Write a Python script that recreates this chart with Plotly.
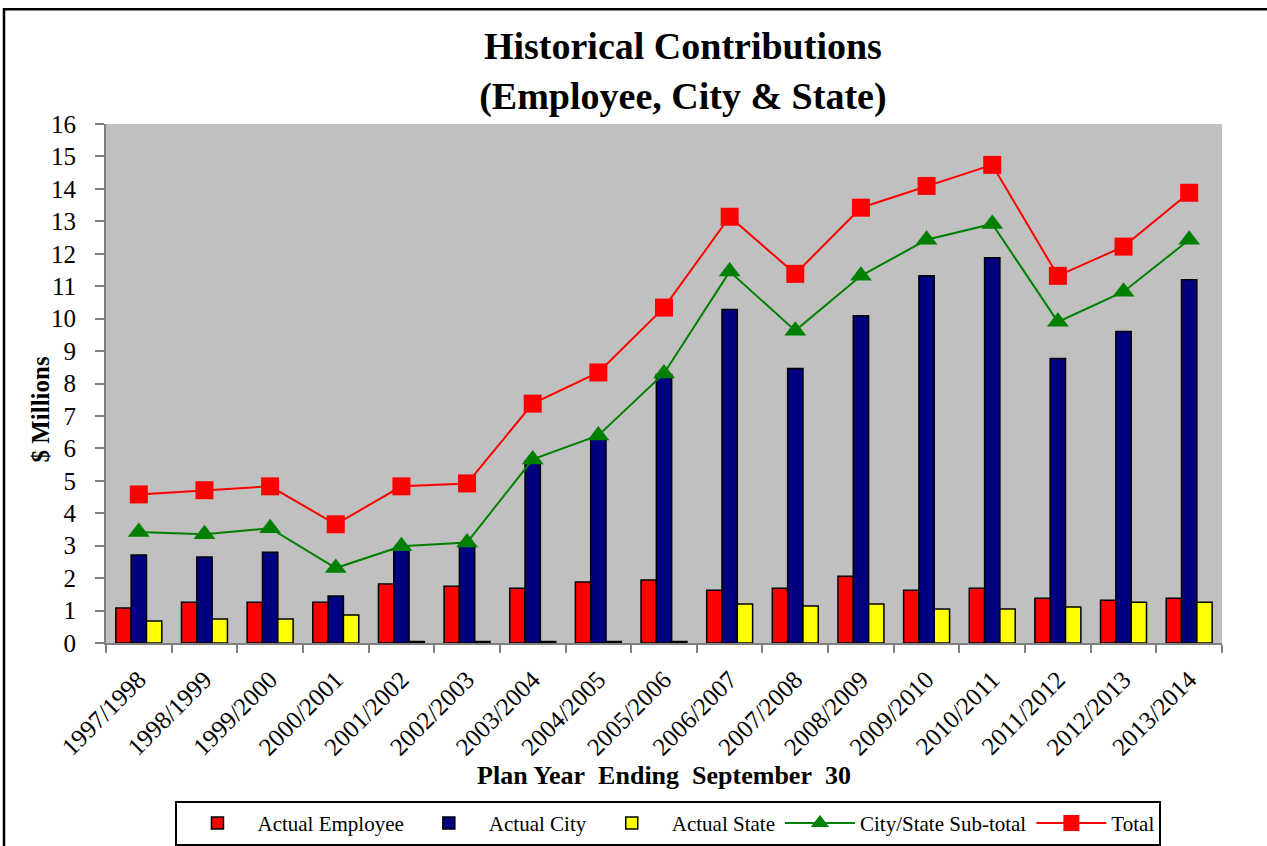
import plotly.graph_objects as go

years = ["1997/1998", "1998/1999", "1999/2000", "2000/2001", "2001/2002", "2002/2003",
         "2003/2004", "2004/2005", "2005/2006", "2006/2007", "2007/2008", "2008/2009",
         "2009/2010", "2010/2011", "2011/2012", "2012/2013", "2013/2014"]
employee = [1.08, 1.26, 1.26, 1.26, 1.82, 1.75, 1.69, 1.88, 1.94, 1.63, 1.69, 2.06,
            1.63, 1.69, 1.38, 1.32, 1.38]
city = [2.71, 2.65, 2.80, 1.45, 2.93, 3.02, 5.60, 6.30, 8.28, 10.28, 8.46, 10.09,
        11.32, 11.88, 8.77, 9.60, 11.20]
state = [0.68, 0.74, 0.74, 0.86, 0.05, 0.05, 0.05, 0.05, 0.05, 1.20, 1.14, 1.20,
         1.05, 1.05, 1.11, 1.26, 1.26]
subtotal = [3.42, 3.35, 3.54, 2.31, 2.98, 3.10, 5.66, 6.40, 8.31, 11.45, 9.63, 11.32,
            12.43, 12.92, 9.90, 10.83, 12.43]
total = [4.58, 4.71, 4.83, 3.66, 4.83, 4.92, 7.38, 8.34, 10.34, 13.14, 11.38, 13.42,
         14.09, 14.74, 11.32, 12.22, 13.88]
y_ticks = list(range(0, 17))

SERIF = "Liberation Serif, Times New Roman, serif"

fig = go.Figure()
bar_line = dict(color="black", width=1.5)
fig.add_trace(go.Bar(x=years, y=employee, name="Actual Employee",
                     marker=dict(color="#FF0000", line=bar_line)))
fig.add_trace(go.Bar(x=years, y=city, name="Actual City",
                     marker=dict(color="#000080", line=bar_line)))
fig.add_trace(go.Bar(x=years, y=state, name="Actual State",
                     marker=dict(color="#FFFF00", line=bar_line)))
fig.add_trace(go.Scatter(x=years, y=subtotal, name="City/State Sub-total", mode="lines+markers",
                         line=dict(color="#008000", width=2),
                         marker=dict(symbol="triangle-up", size=19, color="#008000")))
fig.add_trace(go.Scatter(x=years, y=total, name="Total", mode="lines+markers",
                         line=dict(color="#FF0000", width=2),
                         marker=dict(symbol="square", size=18, color="#FF0000")))

fig.update_layout(
    width=1267, height=846,
    margin=dict(l=106, r=45, t=124, b=203, autoexpand=False),
    paper_bgcolor="white",
    plot_bgcolor="#C0C0C0",
    barmode="group",
    bargap=0.3,
    bargroupgap=0,
    font=dict(family=SERIF, color="black"),
    title=dict(text="<b>Historical Contributions<br>(Employee, City & State)</b>",
               x=0.539, xanchor="center", y=0.93, yanchor="top",
               font=dict(family=SERIF, size=38, color="black")),
    xaxis=dict(
        type="category",
        range=[-0.5, len(years) - 0.5],
        autorange=False,
        automargin=False,
        showgrid=False,
        showline=True, linecolor="#808080", linewidth=2,
        ticks="outside", tickson="boundaries", ticklen=8, tickcolor="#808080", tickwidth=2,
        tickangle=-45,
        ticklabelstandoff=10,
        tickfont=dict(family=SERIF, size=25),
        title=dict(text="<b>Plan Year\u00a0 Ending\u00a0 September\u00a0 30</b>",
                   font=dict(family=SERIF, size=26), standoff=6),
    ),
    yaxis=dict(
        range=[0, 16],
        autorange=False,
        automargin=False,
        tickvals=y_ticks,
        showgrid=False, zeroline=False,
        showline=True, linecolor="#808080", linewidth=2,
        ticks="outside", ticklen=9, tickcolor="#808080", tickwidth=2,
        ticklabelstandoff=14,
        tickfont=dict(family=SERIF, size=25),
    ),
    annotations=[dict(text="<b>$ Millions</b>", xref="paper", yref="paper",
                      x=-0.059, y=0.45, xanchor="center", yanchor="middle",
                      textangle=-90, showarrow=False,
                      font=dict(family=SERIF, size=25, color="black"))],
    legend=dict(
        orientation="h",
        x=0.504, xanchor="center",
        y=-0.304, yanchor="top",
        bordercolor="black", borderwidth=2,
        bgcolor="white",
        font=dict(family=SERIF, size=21),
        traceorder="normal",
        itemwidth=70,
    ),
    shapes=[dict(type="rect", xref="paper", yref="paper",
                 x0=-0.0914, x1=1.06, y0=-0.45, y1=1.221,
                 line=dict(color="black", width=2.5), fillcolor="rgba(0,0,0,0)")],
)

fig.write_html("out.html", config={"displayModeBar": False},
               post_script="document.body.style.margin='0';")
